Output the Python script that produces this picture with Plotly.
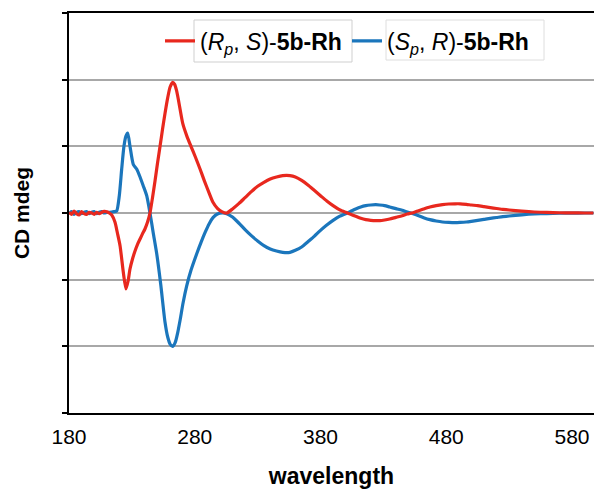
import plotly.graph_objects as go

# ---------------- data ----------------
red_name = "(<i>R</i><sub><i>p</i></sub>, <i>S</i>)-<b>5b-Rh</b>"
blue_name = "(<i>S</i><sub><i>p</i></sub>, <i>R</i>)-<b>5b-Rh</b>"

red_wl = [180, 182, 184, 186, 188, 190, 192, 194, 196, 198, 200, 202, 204, 206, 208, 210, 212, 214,
          216.6, 218.5, 220.6, 223.2, 225.3, 227, 228.5, 230.5, 232.5, 234.5, 236.5, 238.5, 240.4,
          242.4, 244.4, 246.4, 248.4, 250.4, 252.4, 254.4, 256.4, 258.4, 260.4, 262.5, 264, 265.5,
          267, 268.3, 270.5, 273.8, 277, 280.5, 284.2, 287.5, 291, 294.5, 298, 301.5, 305.4, 310,
          315, 320, 325, 330, 335, 340, 345, 350, 355.7, 360, 365, 370, 375, 380, 385, 390, 395,
          400, 403.5, 408, 412, 416, 420, 424, 427.3, 431, 435, 440, 445, 449, 453.6, 458, 462,
          467, 472, 477, 482, 487, 491, 496, 500, 505, 510, 515, 520, 525, 530, 540, 550, 560, 570,
          580, 590, 597]
red_cd = [0.1, -0.2, 0.3, -0.1, -0.3, 0.2, -0.1, -0.2, 0.1, 0.0, -0.2, 0.1, -0.1, 0.1, 0.25, 0.2,
          0.0, -0.3, -1.4, -3.0, -4.9, -8.9, -11.4, -10.2, -8.4, -6.9, -5.7, -4.7, -3.9, -3.1, -2.4,
          -1.4, 0.0, 2.3, 4.8, 7.5, 10.0, 12.6, 15.0, 17.2, 18.9, 19.6, 19.3, 18.4, 17.0, 15.6, 13.4,
          11.5, 10.0, 8.4, 6.6, 4.9, 3.2, 1.6, 0.7, 0.2, 0.0, 0.6, 1.4, 2.3, 3.2, 4.0, 4.6, 5.1, 5.4,
          5.6, 5.6, 5.4, 4.9, 4.2, 3.4, 2.6, 1.8, 1.1, 0.5, 0.1, -0.15, -0.5, -0.8, -1.0, -1.1,
          -1.15, -1.15, -1.05, -0.9, -0.65, -0.4, -0.15, 0.05, 0.35, 0.6, 0.9, 1.1, 1.25, 1.35,
          1.38, 1.38, 1.3, 1.2, 1.1, 0.95, 0.8, 0.68, 0.55, 0.45, 0.28, 0.15, 0.08, 0.04, 0.02,
          0.0, 0.0]

blue_wl = [180, 182, 184, 186, 188, 190, 192, 194, 196, 198, 200, 202, 204, 206, 208, 210, 212, 214,
           216, 217.9, 220, 221.9, 223.7, 225.2, 226.7, 228.5, 231.1, 233.8, 236.5, 239, 241.8,
           244.4, 247, 250, 253, 256.3, 258.5, 260.5, 262.5, 264.5, 266.5, 268.5, 270.7, 273.5,
           277, 281.8, 285, 288.5, 291.5, 294.5, 298, 302, 305.4, 310, 315, 320, 325, 330, 335,
           340, 345, 350, 355.7, 360, 365, 370, 375, 380, 385, 390, 395, 400, 403.5, 408, 412,
           416, 420, 424, 427, 431, 435, 440, 445, 449, 453.6, 458, 462, 467, 472, 477, 482, 487,
           491, 496, 500, 505, 510, 515, 520, 525, 530, 540, 550, 560, 570, 580, 590, 597]
blue_cd = [-0.1, 0.2, -0.2, 0.1, 0.2, -0.1, 0.1, 0.2, -0.1, 0.1, 0.2, -0.1, 0.1, 0.2, 0.0, 0.1, 0.1,
           0.15, 0.2, 0.3, 2.6, 6.6, 10.0, 11.5, 12.0, 10.0, 7.3, 6.6, 5.4, 4.1, 2.6, 0.0, -3.0,
           -6.4, -10.8, -16.3, -18.6, -19.7, -20.0, -19.4, -17.9, -15.9, -13.5, -11.0, -8.6, -6.0,
           -4.4, -2.8, -1.6, -0.7, -0.15, 0.0, -0.1, -0.6, -1.5, -2.5, -3.4, -4.2, -4.9, -5.4, -5.7,
           -5.9, -5.9, -5.6, -5.1, -4.3, -3.5, -2.6, -1.8, -1.1, -0.5, -0.1, 0.2, 0.6, 0.9, 1.1,
           1.2, 1.25, 1.2, 1.1, 0.9, 0.65, 0.4, 0.15, -0.1, -0.4, -0.7, -1.0, -1.2, -1.35, -1.42,
           -1.45, -1.42, -1.35, -1.25, -1.1, -0.95, -0.8, -0.68, -0.55, -0.45, -0.28, -0.15, -0.08,
           -0.04, -0.02, 0, 0]

x_ticks = [180, 280, 380, 480, 580]
y_ticks = [-30, -20, -10, 0, 10, 20, 30]

# ---------------- figure ----------------
FONT = "Liberation Sans, Arial, Helvetica, sans-serif"
RED = "#E8281E"
BLUE = "#1B76BC"

FW, FH = 594, 489
L, R_, T, B = 69, 594, 13, 413
W, H = R_ - L, B - T


def px2paper(x, y):
    return (x - L) / W, (B - y) / H


fig = go.Figure()
fig.add_trace(go.Scatter(x=blue_wl, y=blue_cd, mode="lines", name=blue_name, legendrank=2,
                         line=dict(color=BLUE, width=3.2, shape="spline", smoothing=0.6)))
fig.add_trace(go.Scatter(x=red_wl, y=red_cd, mode="lines", name=red_name, legendrank=1,
                         line=dict(color=RED, width=3.2, shape="spline", smoothing=0.6)))

# light boxes around the legend labels (as in the original graphic)
for (x0, y0, x1, y1, c) in [(194, 20, 352, 62, "#cfcfcf"), (386, 20, 544, 60, "#dedede")]:
    a0, b0 = px2paper(x0, y1)
    a1, b1 = px2paper(x1, y0)
    fig.add_shape(type="rect", xref="paper", yref="paper", x0=a0, y0=b0, x1=a1, y1=b1,
                  line=dict(color=c, width=1), fillcolor="rgba(0,0,0,0)", layer="above")

fig.update_layout(
    width=FW, height=FH,
    margin=dict(l=L, r=FW - R_, t=T, b=FH - B, autoexpand=False),
    paper_bgcolor="white", plot_bgcolor="white",
    font=dict(family=FONT, color="black"),
    showlegend=True,
    legend=dict(orientation="h", x=(160 - L) / W, xanchor="left", y=(B - 41) / H,
                yanchor="middle", bgcolor="rgba(0,0,0,0)", borderwidth=0,
                font=dict(size=23, family=FONT, color="black"),
                entrywidth=142, entrywidthmode="pixels"),
    xaxis=dict(range=[180, 180 + (594 - 69) / 1.2575], tickvals=x_ticks,
               ticktext=[str(v) for v in x_ticks], showgrid=False, zeroline=False,
               showline=True, linecolor="black", linewidth=2, mirror=True, ticks="",
               tickfont=dict(size=21, family=FONT), ticklabelstandoff=4,
               title=dict(text="<b>wavelength</b>", font=dict(size=23, family=FONT),
                          standoff=22)),
    yaxis=dict(range=[-30, 30], tickvals=y_ticks, showticklabels=False, showgrid=True,
               gridcolor="#a8a8a8", gridwidth=2, zeroline=False, showline=True,
               linecolor="black", linewidth=2, ticks="outside", ticklen=5, tickwidth=2,
               tickcolor="black",
               title=dict(text="<b>CD mdeg</b>", font=dict(size=21, family=FONT), standoff=27)),
)

# remove the default 8px page margin so the 594x489 figure fills the window exactly
fig.write_html("out.html", config={"displayModeBar": False},
               post_script="document.body.style.margin='0';document.body.style.overflow='hidden';")
